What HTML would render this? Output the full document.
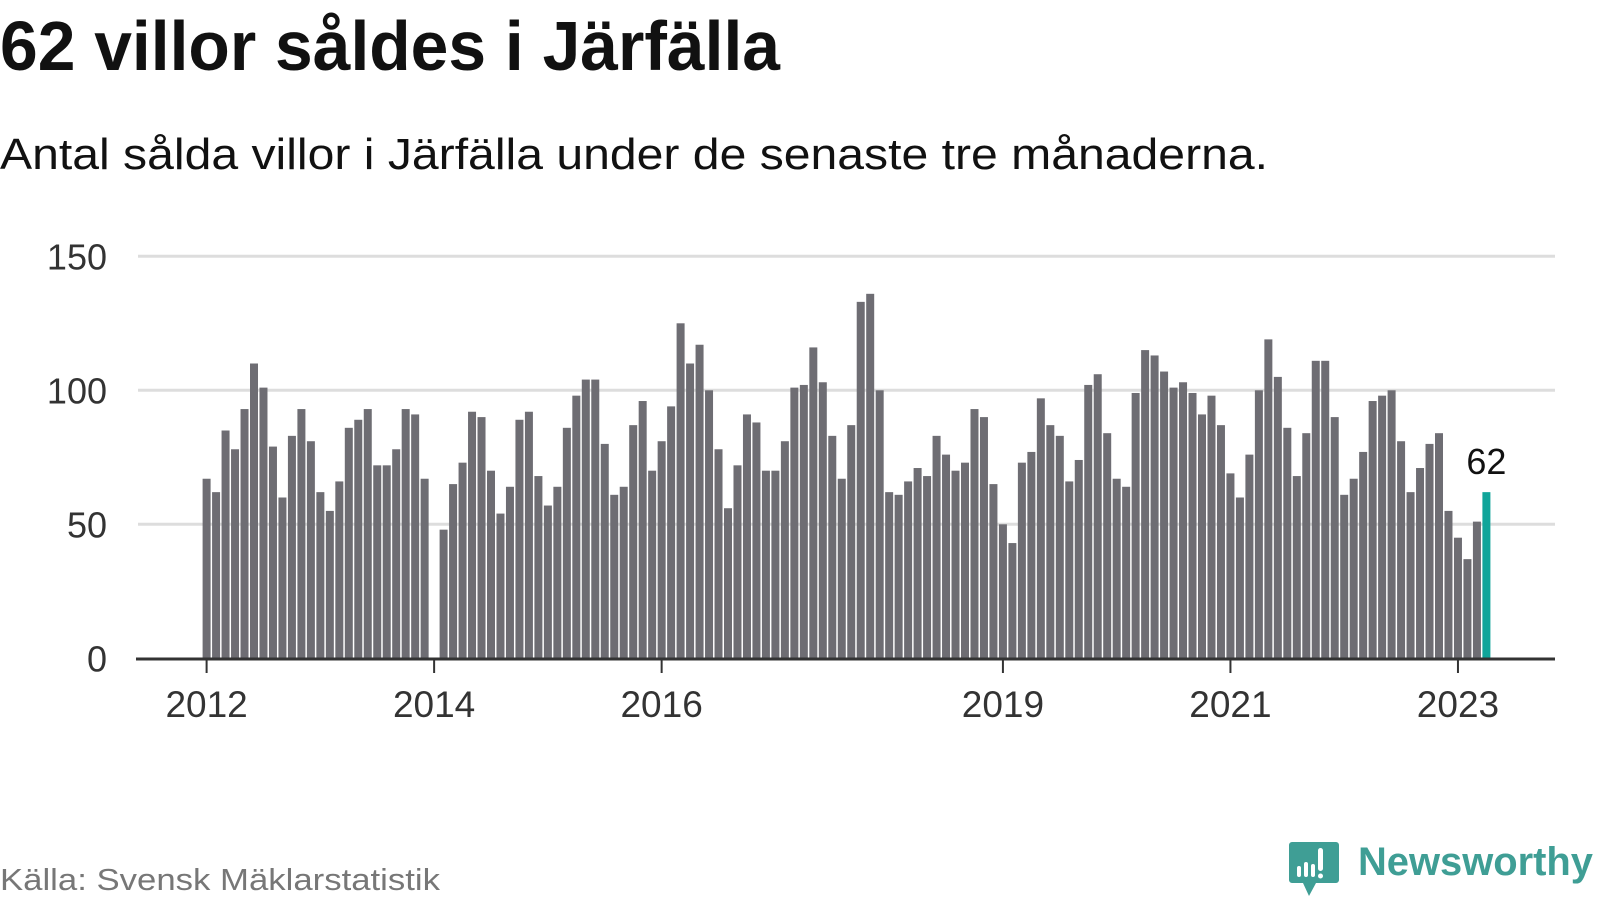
<!DOCTYPE html>
<html><head><meta charset="utf-8"><style>
html,body{margin:0;padding:0;background:#fff;}
svg{display:block;font-family:"Liberation Sans",sans-serif;}
</style></head><body>
<svg id="chart" width="1600" height="900" viewBox="0 0 1600 900">
<text x="0" y="70" font-size="70" font-weight="bold" fill="#111" textLength="780" lengthAdjust="spacingAndGlyphs">62 villor såldes i Järfälla</text>
<text x="0" y="169" font-size="44" fill="#111" textLength="1268" lengthAdjust="spacingAndGlyphs">Antal sålda villor i Järfälla under de senaste tre månaderna.</text>
<g id="grid"></g>
<g id="bars"></g>
<g id="xaxis"></g>
<text x="0" y="890" font-size="31" fill="#777" textLength="440" lengthAdjust="spacingAndGlyphs">Källa: Svensk Mäklarstatistik</text>
<g>
<path d="M1292 842 h44 a3 3 0 0 1 3 3 v35 a3 3 0 0 1 -3 3 h-20 l-7 13 l-6 -13 h-11 a3 3 0 0 1 -3 -3 v-35 a3 3 0 0 1 3 -3z" fill="#3f9e95"/>
<rect x="1297" y="866" width="4" height="11" rx="2" fill="#fff"/>
<rect x="1304" y="862" width="4" height="15" rx="2" fill="#fff"/>
<rect x="1311" y="864" width="4" height="13" rx="2" fill="#fff"/>
<rect x="1318" y="848" width="5" height="23" rx="2.5" fill="#fff"/>
<circle cx="1320.5" cy="876" r="2.5" fill="#fff"/>
<text x="1358" y="875" font-size="40" font-weight="bold" fill="#3f9e95" textLength="235" lengthAdjust="spacingAndGlyphs">Newsworthy</text>
</g>
</svg>
<script>
const values = [67,62,85,78,93,110,101,79,60,83,93,81,62,55,66,86,89,93,72,72,78,93,91,67,
null,48,65,73,92,90,70,54,64,89,92,68,57,64,86,98,104,104,80,61,64,87,96,70,
81,94,125,110,117,100,78,56,72,91,88,70,70,81,101,102,116,103,83,67,87,133,136,100,
62,61,66,71,68,83,76,70,73,93,90,65,50,43,73,77,97,87,83,66,74,102,106,84,
67,64,99,115,113,107,101,103,99,91,98,87,69,60,76,100,119,105,86,68,84,111,111,90,
61,67,77,96,98,100,81,62,71,80,84,55,45,37,51,62];
const yTicks = [0,50,100,150];
const xTickLabels = ["2012","2014","2016","2019","2021","2023"];
const xTickIndex = [0,24,48,84,108,132];
const highlightLabel = "62";

const NS="http://www.w3.org/2000/svg";
const x0=206.6, step=9.48, bw=8;
function xs(i){return x0+step*i;}
function ys(v){return 658.3-v*2.68;}
function mk(tag,attrs,parent){const e=document.createElementNS(NS,tag);for(const k in attrs)e.setAttribute(k,attrs[k]);parent.appendChild(e);return e;}
const grid=document.getElementById('grid'),bars=document.getElementById('bars'),xa=document.getElementById('xaxis');
yTicks.forEach(t=>{
  if(t>0){const l=mk('line',{x1:138,x2:1555,y1:ys(t),y2:ys(t),stroke:'#dddddd','stroke-width':3},grid);
  
  }
  const tx=mk('text',{x:107,y:ys(t)+13,'font-size':36,fill:'#333','text-anchor':'end'},grid);
  
  
  tx.textContent=t;
});
values.forEach((v,i)=>{
  if(v==null)return;
  const last=i===values.length-1;
  const r=mk('rect',{x:xs(i)-bw/2,y:ys(v),width:bw,height:v*2.68,fill:last?'#10a59a':'#6e6d73'},bars);
  
  
  if(last){const lb=mk('text',{x:xs(i),y:ys(v)-18,'font-size':36,fill:'#111','text-anchor':'middle'},bars);
  
  
  lb.textContent=highlightLabel;}
});
const ax=mk('line',{x1:136,x2:1555,y1:659,y2:659,stroke:'#333','stroke-width':3},xa);


xTickIndex.forEach((ix,k)=>{
  const t=mk('line',{x1:xs(ix),x2:xs(ix),y1:659,y2:673,stroke:'#333','stroke-width':2},xa);
  
  
  const tx=mk('text',{x:xs(ix),y:717,'font-size':37,fill:'#333','text-anchor':'middle'},xa);
  
  
  tx.textContent=xTickLabels[k];
});
</script>
</body></html>
